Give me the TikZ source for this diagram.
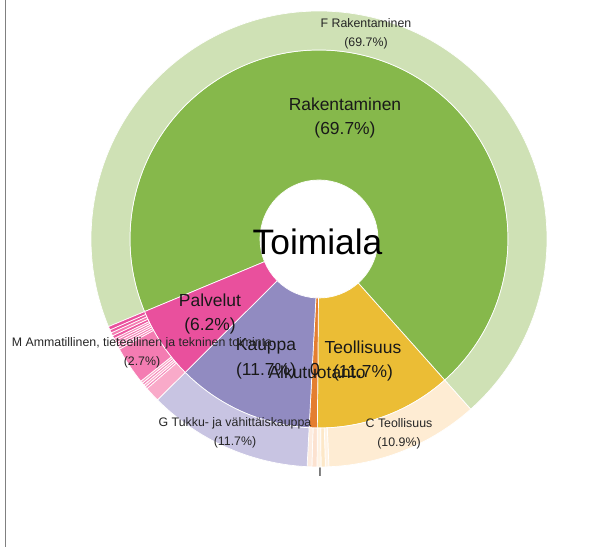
\documentclass[tikz,border=0pt]{standalone}
\usepackage{fontspec}
\setmainfont{Liberation Sans}
\definecolor{rakgreen}{RGB}{134,184,75}
\definecolor{raklight}{RGB}{207,225,181}
\definecolor{teolyellow}{RGB}{235,189,53}
\definecolor{teolcream}{RGB}{254,236,211}
\definecolor{teolcreamb}{RGB}{255,243,228}
\definecolor{teolcreamc}{RGB}{253,232,200}
\definecolor{alkuorange}{RGB}{228,126,48}
\definecolor{alkupeach}{RGB}{252,226,208}
\definecolor{alkupeachb}{RGB}{253,236,224}
\definecolor{kaupurple}{RGB}{145,139,193}
\definecolor{kaulavender}{RGB}{200,196,226}
\definecolor{palpink}{RGB}{233,80,157}
\definecolor{palm}{RGB}{244,124,178}
\definecolor{pallight}{RGB}{249,170,201}
\definecolor{palthin}{RGB}{246,140,188}
\definecolor{paldark}{RGB}{236,88,160}
\begin{document}
\begin{tikzpicture}[x=1bp, y=1bp,
  ring part/.style={draw=white, line width=0.7bp, line join=round},
  center label/.style={font=\fontsize{35.5}{40}\selectfont, inner sep=0pt},
  inner label/.style={font=\fontsize{17.5}{25}\selectfont, align=center, inner sep=0pt, text=black!90},
  outer label/.style={font=\fontsize{12.4}{19.5}\selectfont, align=center, inner sep=0pt, text=black!85}
  ]
\useasboundingbox (-319,-308) rectangle (297,239);
% page edge on the left
\draw[black!50, line width=1.8bp] (-313.5,239) -- (-313.5,-308);
% Toimiala ring
\foreach \a/\b/\c in {202.6/-48.3/rakgreen, -48.3/-90.5/teolyellow, -90.5/-93.0/alkuorange,
                      -93.0/-135.1/kaupurple, -135.1/-157.4/palpink}
  \filldraw[ring part, fill=\c] (\a:59) arc[start angle=\a, end angle=\b, radius=59]
    -- (\b:189) arc[start angle=\b, end angle=\a, radius=189] -- cycle;
% Toimiala (tarkempi) ring
\foreach \a/\b/\c in {202.6/-48.3/raklight, -48.3/-87.5/teolcream, -87.5/-88.4/teolcreamb,
                      -88.4/-89.5/teolcreamc, -89.5/-90.5/teolcreamb, -90.5/-91.8/alkupeach,
                      -91.8/-93.0/alkupeachb, -93.0/-135.1/kaulavender,
                      -135.1/-139.0/pallight, -139.0/-139.6/palthin, -139.6/-140.2/pallight,
                      -140.2/-140.8/palthin, -140.8/-141.4/pallight, -141.4/-151.1/palm,
                      -151.1/-151.7/palthin, -151.7/-152.3/palm, -152.3/-152.9/palthin,
                      -152.9/-153.5/palm, -153.5/-154.1/palthin, -154.1/-154.9/paldark,
                      -154.9/-155.7/palm, -155.7/-156.5/paldark, -156.5/-157.4/palpink}
  \filldraw[ring part, fill=\c] (\a:189) arc[start angle=\a, end angle=\b, radius=189]
    -- (\b:228) arc[start angle=\b, end angle=\a, radius=228] -- cycle;
% labels
\node[center label, anchor=base] (toimiala) at (-1.5,-16) {Toimiala};
\node[inner label] (rakentaminen) at (26,121) {Rakentaminen\\(69.7\%)};
\node[inner label] (teollisuus) at (44,-122) {Teollisuus\\(11.7\%)};
\node[inner label] (kauppa) at (-53,-120) {Kauppa\\(11.7\%)};
\node[inner label] (palvelut) at (-109,-75) {Palvelut\\(6.2\%)};
\node[inner label] (alkutuotanto) at (-2,-133) {Alkutuotanto};
\node[inner label] (alku zero) at (-4,-130) {0};
\node[outer label] (f rakentaminen) at (47,205) {F Rakentaminen\\(69.7\%)};
\node[outer label] (c teollisuus) at (80,-195) {C Teollisuus\\(10.9\%)};
\node[outer label] (g kauppa) at (-84,-194) {G Tukku- ja vähittäiskauppa\\(11.7\%)};
\node[outer label] (m palvelut) at (-177,-114) {M Ammatillinen, tieteellinen ja tekninen toiminta\\(2.7\%)};
\node[outer label] (tiny label) at (1,-233) {I};
\end{tikzpicture}
\end{document}
